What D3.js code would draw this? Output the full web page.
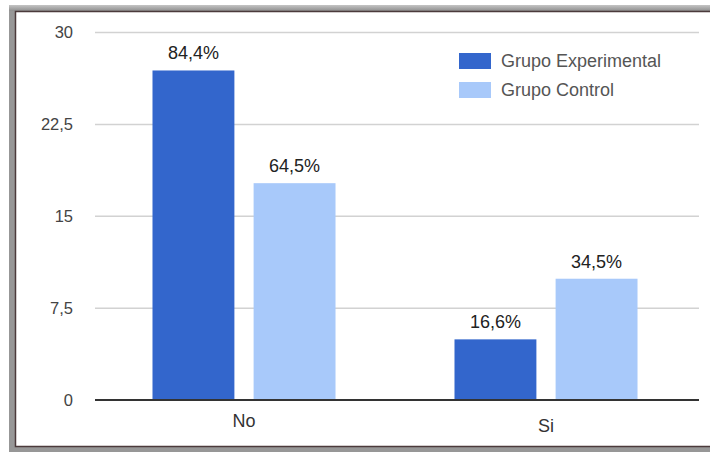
<!DOCTYPE html>
<html>
<head>
<meta charset="utf-8">
<script src="https://cdn.jsdelivr.net/npm/d3@7"></script>
<style>
  html, body { margin: 0; padding: 0; background: #fff; }
  svg { display: block; font-family: "Liberation Sans", Arial, sans-serif; }
</style>
</head>
<body>
<svg id="chart" width="710" height="452"></svg>
<script>
// Respuestas por grupo
const categories = ["No", "Si"];
const series = ["Grupo Experimental", "Grupo Control"];
const experimental = [26.9, 4.95];
const control = [17.7, 9.9];
const expLabels = ["84,4%", "16,6%"];
const ctrlLabels = ["64,5%", "34,5%"];
const yTicks = [0, 7.5, 15, 22.5, 30];
const yTickLabels = ["0", "7,5", "15", "22,5", "30"];
const colors = ["#3366cc", "#a8c9fa"];

const values = [experimental, control];
const labels = [expLabels, ctrlLabels];

const svg = d3.select("#chart");

// Marco gris exterior
const defs = svg.append("defs");
const gH = defs.append("linearGradient").attr("id", "frameH").attr("x1", 0).attr("x2", 0).attr("y1", 0).attr("y2", 1);
gH.append("stop").attr("offset", "0%").attr("stop-color", "#c4c4c4");
gH.append("stop").attr("offset", "100%").attr("stop-color", "#8e8e8e");
svg.append("rect").attr("x", 9).attr("y", 5).attr("width", 701).attr("height", 447).attr("fill", "#979797");
svg.append("rect").attr("x", 9).attr("y", 5).attr("width", 701).attr("height", 6).attr("fill", "url(#frameH)");
svg.append("rect").attr("x", 16).attr("y", 11).attr("width", 694).attr("height", 435).attr("fill", "#fff");
svg.append("path")
  .attr("d", "M710,11.5 H15.5 V446.5 H710")
  .attr("fill", "none").attr("stroke", "#4b3a3b").attr("stroke-width", 1.5);

const plotLeft = 95, plotRight = 699;
const y = d3.scaleLinear().domain([0, 30]).range([400, 32.5]);
const x0 = d3.scaleBand().domain(categories).range([93, 697]).paddingInner(0.394).paddingOuter(0.197);
const x1 = d3.scaleBand().domain(series).range([0, x0.bandwidth()]).paddingInner(0.19);

// Líneas de la cuadrícula
svg.append("g").selectAll("line").data(yTicks.filter(d => d !== 0)).join("line")
  .attr("x1", plotLeft).attr("x2", plotRight)
  .attr("y1", d => y(d)).attr("y2", d => y(d))
  .attr("stroke", "#d2d2d2").attr("stroke-width", 1.5);

// Etiquetas del eje Y
svg.append("g").selectAll("text").data(yTicks).join("text")
  .attr("x", 73).attr("y", d => y(d))
  .attr("dy", "0.36em")
  .attr("text-anchor", "end")
  .attr("font-size", 16.5)
  .attr("fill", "#444")
  .text((d, i) => yTickLabels[i]);

// Barras
const groups = svg.append("g").selectAll("g").data(categories).join("g")
  .attr("transform", d => `translate(${x0(d)},0)`);

groups.selectAll("rect")
  .data((c, ci) => series.map((s, si) => ({ s, si, v: values[si][ci], label: labels[si][ci] })))
  .join("rect")
  .attr("x", d => x1(d.s))
  .attr("width", x1.bandwidth())
  .attr("y", d => y(d.v))
  .attr("height", d => y(0) - y(d.v))
  .attr("fill", d => colors[d.si]);

groups.selectAll("text")
  .data((c, ci) => series.map((s, si) => ({ s, si, v: values[si][ci], label: labels[si][ci] })))
  .join("text")
  .attr("x", d => x1(d.s) + x1.bandwidth() / 2)
  .attr("y", d => y(d.v) - 11)
  .attr("text-anchor", "middle")
  .attr("font-size", 18)
  .attr("fill", "#222")
  .text(d => d.label);

// Línea base
svg.append("line")
  .attr("x1", plotLeft).attr("x2", plotRight)
  .attr("y1", y(0)).attr("y2", y(0))
  .attr("stroke", "#333").attr("stroke-width", 2);

// Etiquetas de categoría
svg.append("g").selectAll("text").data(categories).join("text")
  .attr("x", d => x0(d) + x0.bandwidth() / 2)
  .attr("y", (d, i) => 427 + i * 5)
  .attr("text-anchor", "middle")
  .attr("font-size", 18)
  .attr("fill", "#333")
  .text(d => d);

// Leyenda
const legend = svg.append("g").selectAll("g").data(series).join("g")
  .attr("transform", (d, i) => `translate(459,${53 + i * 29})`);
legend.append("rect").attr("width", 32).attr("height", 16).attr("fill", (d, i) => colors[i]);
legend.append("text")
  .attr("x", 42).attr("y", 8).attr("dy", "0.36em")
  .attr("font-size", 18)
  .attr("fill", "#555")
  .text(d => d);
</script>
</body>
</html>
